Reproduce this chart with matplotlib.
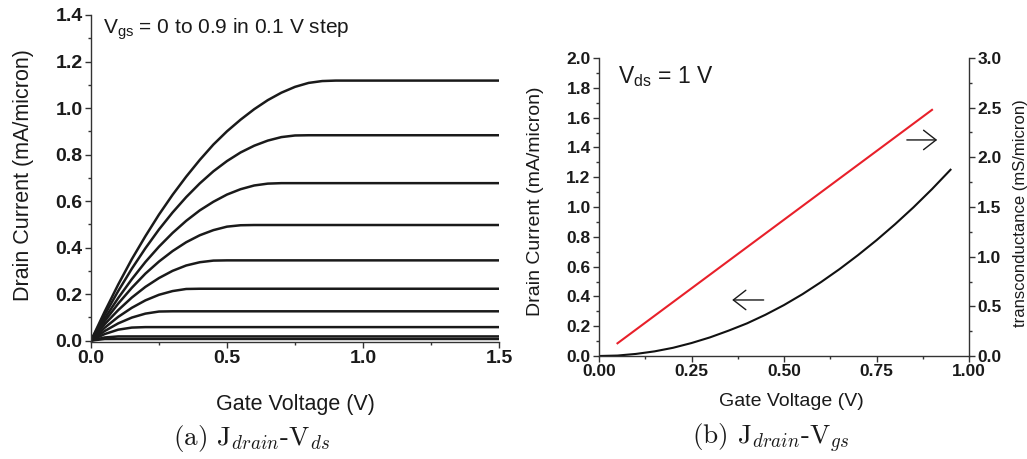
import matplotlib
matplotlib.use("Agg")
import matplotlib.pyplot as plt
from matplotlib.ticker import MultipleLocator, FormatStrFormatter

plt.rcParams['font.family'] = ['Liberation Sans', 'DejaVu Sans']
plt.rcParams['mathtext.fontset'] = 'custom'
plt.rcParams['mathtext.rm'] = 'Liberation Sans'
plt.rcParams['mathtext.it'] = 'Liberation Sans:italic'

# ---------------- data: panel (a) ----------------
vds = [0, 0.05, 0.1, 0.15, 0.2, 0.25, 0.3, 0.35, 0.4, 0.45, 0.5, 0.55, 0.6,
       0.65, 0.7, 0.75, 0.8, 0.85, 0.9, 1.5]
vgs_levels = [0.9, 0.8, 0.7, 0.6, 0.5, 0.4, 0.3, 0.2, 0.1, 0.0]
id_vgs09 = [0, 0.124, 0.241, 0.350, 0.449, 0.542, 0.627, 0.705, 0.777, 0.843, 0.900,
            0.950, 0.995, 1.034, 1.066, 1.091, 1.108, 1.116, 1.118, 1.118]
id_vgs08 = [0, 0.110, 0.213, 0.309, 0.397, 0.478, 0.551, 0.617, 0.676, 0.728, 0.772,
            0.809, 0.838, 0.860, 0.875, 0.882, 0.883, 0.883, 0.883, 0.883]
id_vgs07 = [0, 0.095, 0.183, 0.264, 0.338, 0.404, 0.463, 0.515, 0.560, 0.597, 0.628,
            0.651, 0.667, 0.675, 0.677, 0.677, 0.677, 0.677, 0.677, 0.677]
id_vgs06 = [0, 0.083, 0.159, 0.227, 0.288, 0.340, 0.385, 0.423, 0.453, 0.475, 0.490,
            0.496, 0.497, 0.497, 0.497, 0.497, 0.497, 0.497, 0.497, 0.497]
id_vgs05 = [0, 0.070, 0.131, 0.185, 0.231, 0.269, 0.300, 0.323, 0.337, 0.344, 0.345,
            0.345, 0.345, 0.345, 0.345, 0.345, 0.345, 0.345, 0.345, 0.345]
id_vgs04 = [0, 0.055, 0.102, 0.141, 0.173, 0.197, 0.213, 0.222, 0.223, 0.223, 0.223,
            0.223, 0.223, 0.223, 0.223, 0.223, 0.223, 0.223, 0.223, 0.223]
id_vgs03 = [0, 0.041, 0.074, 0.099, 0.116, 0.125, 0.126, 0.126, 0.126, 0.126, 0.126,
            0.126, 0.126, 0.126, 0.126, 0.126, 0.126, 0.126, 0.126, 0.126]
id_vgs02 = [0, 0.028, 0.047, 0.056, 0.058, 0.058, 0.058, 0.058, 0.058, 0.058, 0.058,
            0.058, 0.058, 0.058, 0.058, 0.058, 0.058, 0.058, 0.058, 0.058]
id_vgs01 = [0, 0.0135, 0.018, 0.018, 0.018, 0.018, 0.018, 0.018, 0.018, 0.018, 0.018,
            0.018, 0.018, 0.018, 0.018, 0.018, 0.018, 0.018, 0.018, 0.018]
id_vgs00 = [0, 0.0068, 0.007, 0.007, 0.007, 0.007, 0.007, 0.007, 0.007, 0.007, 0.007,
            0.007, 0.007, 0.007, 0.007, 0.007, 0.007, 0.007, 0.007, 0.007]
curves_a = [id_vgs09, id_vgs08, id_vgs07, id_vgs06, id_vgs05,
            id_vgs04, id_vgs03, id_vgs02, id_vgs01, id_vgs00]

# ---------------- data: panel (b) ----------------
vgs_b = [0, 0.05, 0.1, 0.15, 0.2, 0.25, 0.3, 0.35, 0.4, 0.45, 0.5, 0.55, 0.6,
         0.65, 0.7, 0.75, 0.8, 0.85, 0.9, 0.95]
id_b = [0.000, 0.003, 0.014, 0.031, 0.055, 0.087, 0.125, 0.170, 0.219, 0.277, 0.342,
        0.415, 0.496, 0.583, 0.677, 0.777, 0.884, 0.998, 1.120, 1.250]
vgs_gm = [0.05, 0.25, 0.5, 0.75, 0.9]
gm_b = [0.128, 0.681, 1.372, 2.063, 2.478]

W, H = 1027, 459
fig = plt.figure(figsize=(W / 100, H / 100), dpi=100)

spine_col = '#333333'
text_col = '#1a1a1a'

def style_axes(ax, tick_size):
    for s in ['top', 'right']:
        ax.spines[s].set_visible(False)
    for s in ['left', 'bottom']:
        ax.spines[s].set_color(spine_col)
        ax.spines[s].set_linewidth(1.0)
    ax.tick_params(which='major', direction='out', length=4, width=1.0,
                   color=spine_col, labelsize=tick_size, pad=2,
                   labelcolor=text_col)
    ax.tick_params(which='minor', direction='out', length=2.5, width=1.0,
                   color=spine_col)
    for lab in ax.get_xticklabels() + ax.get_yticklabels():
        lab.set_fontweight('bold')

# ---------- panel (a) ----------
axa = fig.add_axes([91 / W, 1 - 342 / H, 408 / W, 327 / H])
for vg, cur in zip(vgs_levels, curves_a):
    axa.plot(vds, cur, color=text_col, lw=1.8, solid_capstyle='butt',
             solid_joinstyle='round')
axa.set_xlim(0, 1.5)
axa.set_ylim(-0.006, 1.4)
axa.xaxis.set_major_locator(MultipleLocator(0.5))
axa.xaxis.set_minor_locator(MultipleLocator(0.25))
axa.yaxis.set_major_locator(MultipleLocator(0.2))
axa.yaxis.set_minor_locator(MultipleLocator(0.1))
axa.xaxis.set_major_formatter(FormatStrFormatter('%.1f'))
axa.yaxis.set_major_formatter(FormatStrFormatter('%.1f'))
style_axes(axa, 14)
axa.set_xlabel('Gate Voltage (V)', fontsize=15.5, color=text_col)
axa.xaxis.label.set_verticalalignment('center')
axa.xaxis.set_label_coords(0.5, -0.19)
axa.set_ylabel('Drain Current (mA/micron)', fontsize=15.5, color=text_col)
axa.yaxis.label.set_verticalalignment('center')
axa.yaxis.set_label_coords(-0.165, 0.51)
axa.text(0.029, 0.944, r'V$_{\mathregular{gs}}$ = 0 to 0.9 in 0.1 V step',
         transform=axa.transAxes, fontsize=15, va='baseline', ha='left',
         color=text_col)

# ---------- panel (b) ----------
axb = fig.add_axes([599 / W, 1 - 356 / H, 370 / W, 298 / H])
axb.plot(vgs_b, id_b, color='#111111', lw=1.5)
axb.set_xlim(0, 1.0)
axb.set_ylim(0, 2.0)
axb.xaxis.set_major_locator(MultipleLocator(0.25))
axb.xaxis.set_minor_locator(MultipleLocator(0.125))
axb.yaxis.set_major_locator(MultipleLocator(0.2))
axb.yaxis.set_minor_locator(MultipleLocator(0.1))
axb.xaxis.set_major_formatter(FormatStrFormatter('%.2f'))
axb.yaxis.set_major_formatter(FormatStrFormatter('%.1f'))
style_axes(axb, 12.5)
axb.set_xlabel('Gate Voltage (V)', fontsize=14, color=text_col)
axb.xaxis.label.set_verticalalignment('center')
axb.xaxis.set_label_coords(0.52, -0.154)
axb.set_ylabel('Drain Current (mA/micron)', fontsize=14, color=text_col)
axb.yaxis.label.set_verticalalignment('center')
axb.yaxis.set_label_coords(-0.172, 0.518)
axb.text(0.051, 0.915, r'V$_{\mathregular{ds}}$ = 1 V', transform=axb.transAxes,
         fontsize=16.5, va='baseline', ha='left', color=text_col)
arrow_kw = dict(arrowstyle='->, head_length=0.45, head_width=0.35',
                lw=1.0, color=text_col, mutation_scale=20, shrinkA=0, shrinkB=0)
axb.annotate('', xy=(0.36, 0.376), xytext=(0.445, 0.376), arrowprops=arrow_kw)
axb.annotate('', xy=(0.914, 1.45), xytext=(0.832, 1.45), arrowprops=arrow_kw)

axr = axb.twinx()
axr.plot(vgs_gm, gm_b, color='#e8202a', lw=1.5)
axr.set_ylim(0, 3.0)
axr.yaxis.set_major_locator(MultipleLocator(0.5))
axr.yaxis.set_minor_locator(MultipleLocator(0.25))
axr.yaxis.set_major_formatter(FormatStrFormatter('%.1f'))
for s in ['top', 'left', 'bottom']:
    axr.spines[s].set_visible(False)
axr.spines['right'].set_color(spine_col)
axr.spines['right'].set_linewidth(1.0)
axr.tick_params(which='major', direction='out', length=4, width=1.0,
                color=spine_col, labelsize=12.5, pad=2, labelcolor=text_col)
axr.tick_params(which='minor', direction='out', length=2.5, width=1.0,
                color=spine_col)
for lab in axr.get_yticklabels():
    lab.set_fontweight('bold')
axr.set_ylabel('transconductance (mS/micron)', fontsize=12, color=text_col)
axr.yaxis.label.set_verticalalignment('center')
axr.yaxis.set_label_coords(1.138, 0.478)

# ---------- captions ----------
plt.rcParams['mathtext.fontset'] = 'cm'
cap_kw = dict(fontsize=19.5, ha='center', va='center', family='cmr10', color=text_col)
fig.text(252 / W, 1 - 438 / H, r'(a) J$_{drain}$-V$_{ds}$', **cap_kw)
fig.text(771 / W, 1 - 438 / H, r'(b) J$_{drain}$-V$_{gs}$', **cap_kw)

fig.savefig('out.png', dpi=100)
